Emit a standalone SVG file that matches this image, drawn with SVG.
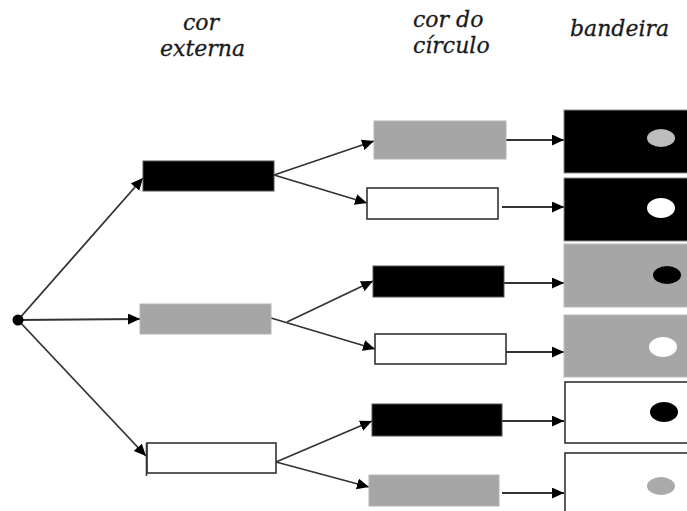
<svg xmlns="http://www.w3.org/2000/svg" width="687" height="511" viewBox="0 0 687 511">
  <defs>
    <marker id="arrow" markerUnits="userSpaceOnUse" markerWidth="14" markerHeight="12" refX="12" refY="5.5" orient="auto">
      <path d="M0,0 L12,5.5 L0,11 Z" fill="#000"/>
    </marker>
  </defs>
  <style>
    .hdr { font-family: "DejaVu Serif", "Liberation Serif", serif; font-style: italic; font-size: 22px; fill: #1a1a1a; stroke: #1a1a1a; stroke-width: 0.3; }
    .blk { fill: #000; stroke: #555; stroke-width: 1; }
    .gry { fill: #a6a6a6; stroke: #b5b5b5; stroke-width: 1; }
    .wht { fill: #fff; stroke: #333; stroke-width: 1.6; }
    .conn line { stroke: #333; stroke-width: 1.8; marker-end: url(#arrow); }
  </style>
  <rect width="687" height="511" fill="#fff"/>

  <!-- column headers -->
  <g id="headers">
    <text class="hdr" x="183" y="30">cor</text>
    <text class="hdr" x="160" y="56">externa</text>
    <text class="hdr" x="413" y="27">cor do</text>
    <text class="hdr" x="413" y="53">círculo</text>
    <text class="hdr" x="570" y="36">bandeira</text>
  </g>

  <!-- connectors -->
  <g id="connectors" class="conn">
    <line x1="18" y1="320" x2="143" y2="178"/>
    <line x1="18" y1="320" x2="140" y2="319"/>
    <line x1="18" y1="320" x2="146" y2="456"/>
    <line x1="274" y1="175" x2="374" y2="141"/>
    <line x1="274" y1="175" x2="367" y2="203"/>
    <line x1="287" y1="322" x2="373" y2="281"/>
    <line x1="271" y1="318" x2="375" y2="349"/>
    <line x1="276" y1="462" x2="372" y2="421"/>
    <line x1="276" y1="462" x2="369" y2="487"/>
    <line x1="506" y1="140" x2="564" y2="140"/>
    <line x1="502" y1="207" x2="564" y2="207"/>
    <line x1="504" y1="283" x2="564" y2="283"/>
    <line x1="506" y1="352" x2="564" y2="352"/>
    <line x1="502" y1="421" x2="564" y2="421"/>
    <line x1="502" y1="493" x2="564" y2="493"/>
  </g>

  <!-- root -->
  <g id="root">
    <circle cx="18" cy="320" r="5.5" fill="#000"/>
  </g>

  <!-- outer colour -->
  <g id="outer-black"><rect class="blk" x="143" y="161" width="131" height="30"/></g>
  <g id="outer-gray"><rect class="gry" x="140" y="304" width="131" height="30"/></g>
  <g id="outer-white">
    <rect class="wht" x="147" y="443" width="129" height="30"/>
    <line x1="146.5" y1="443" x2="146.5" y2="476" stroke="#333" stroke-width="1.6"/>
  </g>

  <!-- circle colour -->
  <g id="circle-gray-1"><rect class="gry" x="374" y="121" width="132" height="38"/></g>
  <g id="circle-white-1"><rect class="wht" x="367" y="188" width="131" height="31"/></g>
  <g id="circle-black-2"><rect class="blk" x="373" y="266" width="131" height="31"/></g>
  <g id="circle-white-2"><rect class="wht" x="375" y="334" width="131" height="30"/></g>
  <g id="circle-black-3"><rect class="blk" x="372" y="404" width="130" height="32"/></g>
  <g id="circle-gray-3"><rect class="gry" x="369" y="475" width="130" height="31"/></g>

  <!-- flags -->
  <g id="flag-1">
    <rect x="564" y="110" width="140" height="63" fill="#000" stroke="#888" stroke-width="1"/>
    <ellipse cx="661" cy="138" rx="14" ry="9" fill="#bdbdbd"/>
  </g>
  <g id="flag-2">
    <rect x="564" y="178" width="140" height="63" fill="#000" stroke="#888" stroke-width="1"/>
    <ellipse cx="661" cy="208" rx="14" ry="10" fill="#fff"/>
  </g>
  <g id="flag-3">
    <rect x="564" y="244" width="140" height="63" fill="#a6a6a6" stroke="#bbb" stroke-width="1"/>
    <ellipse cx="667" cy="275" rx="14" ry="9" fill="#000"/>
  </g>
  <g id="flag-4">
    <rect x="564" y="315" width="140" height="62" fill="#a6a6a6" stroke="#bbb" stroke-width="1"/>
    <ellipse cx="663" cy="347" rx="14" ry="10" fill="#fff"/>
  </g>
  <g id="flag-5">
    <rect x="565" y="382" width="140" height="61" fill="#fff" stroke="#333" stroke-width="1.6"/>
    <ellipse cx="664" cy="412" rx="14" ry="10" fill="#000"/>
  </g>
  <g id="flag-6">
    <rect x="565" y="453" width="140" height="70" fill="#fff" stroke="#333" stroke-width="1.6"/>
    <ellipse cx="661" cy="486" rx="14" ry="9" fill="#aaa"/>
  </g>
</svg>
